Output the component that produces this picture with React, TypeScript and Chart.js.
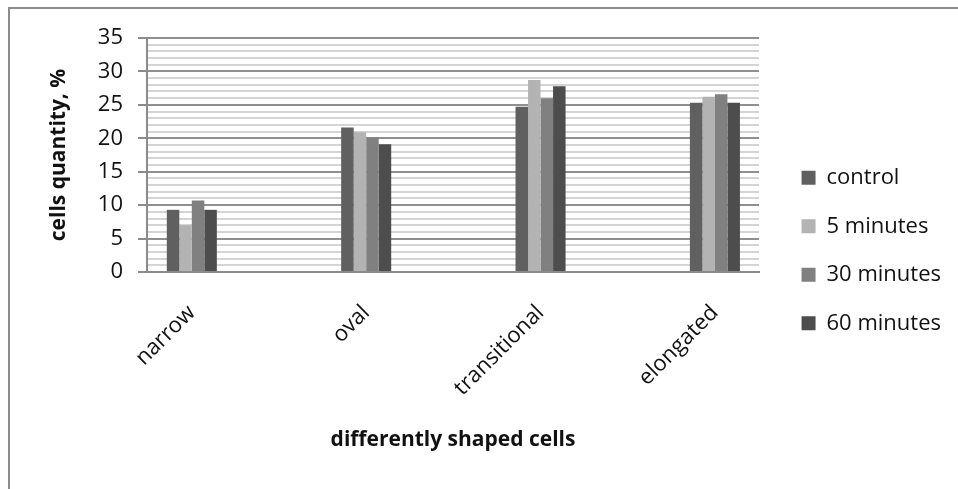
import { useEffect, useRef } from 'react';
import { Chart, registerables } from 'chart.js';

Chart.register(...registerables);

const categories = ['narrow', 'oval', 'transitional', 'elongated'];
const seriesNames = ['control', '5 minutes', '30 minutes', '60 minutes'];
const control = [9.3, 21.6, 24.7, 25.3];
const min5 = [7.0, 20.9, 28.7, 26.2];
const min30 = [10.7, 20.1, 26.0, 26.6];
const min60 = [9.3, 19.1, 27.8, 25.3];
const seriesColors = ['#606060', '#b3b3b3', '#808080', '#4d4d4d'];
const yMin = 0;
const yMax = 35;
const yMajorStep = 5;
const xTitle = 'differently shaped cells';
const yTitle = 'cells quantity, %';

const FONT = '"Open Sans", "Noto Sans", sans-serif';

export default function App() {
  const ref = useRef<HTMLCanvasElement | null>(null);

  useEffect(() => {
    let chart: Chart | null = null;
    let cancelled = false;
    const seriesValues = [control, min5, min30, min60];

    const build = () => {
      if (cancelled || !ref.current) return;
      chart = new Chart(ref.current, {
        type: 'bar',
        data: {
          datasets: seriesNames.map((name, s) => ({
            label: name,
            data: seriesValues[s].map((v, i) => ({ x: i, y: v })),
            backgroundColor: seriesColors[s],
            borderWidth: 0,
            categoryPercentage: 0.287,
            barPercentage: 1,
          })),
        },
        options: {
          responsive: false,
          animation: false,
          events: [],
          layout: { padding: { left: 0, top: 29, right: 7, bottom: 26 } },
          plugins: {
            tooltip: { enabled: false },
            legend: {
              display: true,
              position: 'right',
              maxWidth: 400,
              labels: {
                boxWidth: 14,
                boxHeight: 14,
                padding: 26.5,
                color: '#111',
                font: { family: FONT, size: 22 },
              },
            },
          },
          scales: {
            x: {
              type: 'linear',
              offset: false,
              min: -0.257,
              max: 3.253,
              afterBuildTicks: (s: any) => {
                s.ticks = categories.map((_, i) => ({ value: i }));
              },
              afterFit: (s: any) => {
                s.height = 191;
              },
              grid: { display: false, offset: false },
              border: { display: true, color: '#8a8a8a', width: 2 },
              ticks: {
                autoSkip: false,
                minRotation: 45,
                maxRotation: 45,
                padding: 20,
                color: '#111',
                font: { family: FONT, size: 22 },
                callback: (v: any) => categories[Math.round(Number(v))] ?? '',
              },
              title: {
                display: true,
                text: xTitle,
                color: '#111',
                font: { family: FONT, size: 21, weight: 'bold' },
                padding: { top: 0, bottom: 10.4 },
              },
            },
            y: {
              type: 'linear',
              min: yMin,
              max: yMax,
              afterFit: (s: any) => {
                s.width = 137;
              },
              grid: {
                display: true,
                drawTicks: true,
                tickLength: 9,
                lineWidth: 2,
                color: (c: any) => (c.tick && c.tick.value % yMajorStep === 0 ? '#8f8f8f' : '#d4d4d4'),
                tickColor: (c: any) => (c.tick && c.tick.value % yMajorStep === 0 ? '#8a8a8a' : 'rgba(0,0,0,0)'),
                tickWidth: 2,
              },
              border: { display: true, color: '#8a8a8a', width: 2 },
              ticks: {
                stepSize: 1,
                autoSkip: false,
                padding: 15,
                color: '#111',
                font: { family: FONT, size: 22 },
                callback: (v: any) => (Number(v) % yMajorStep === 0 ? String(v) : ''),
              },
              title: {
                display: true,
                text: yTitle,
                color: '#111',
                font: { family: FONT, size: 21, weight: 'bold' },
                padding: { top: 36.4, bottom: 0 },
              },
            },
            gap: {
              type: 'linear',
              position: 'right',
              display: true,
              grid: { display: false },
              border: { display: false },
              ticks: { display: false },
              afterFit: (s: any) => {
                s.width = 16;
              },
            },
          },
        } as any,
      });
    };

    const fontsReady = (document as any).fonts
      ? Promise.all([
          (document as any).fonts.load('22px "Open Sans"'),
          (document as any).fonts.load('bold 21px "Open Sans"'),
        ]).catch(() => null)
      : Promise.resolve(null);
    fontsReady.then(build);

    return () => {
      cancelled = true;
      if (chart) chart.destroy();
    };
  }, []);

  return (
    <div
      style={{
        position: 'absolute',
        left: 8,
        top: 7,
        width: 950,
        height: 482,
        borderLeft: '2px solid #8c8c8c',
        borderTop: '2px solid #8c8c8c',
        boxSizing: 'border-box',
        overflow: 'hidden',
        background: '#fff',
      }}
    >
      <canvas ref={ref} width={948} height={480} style={{ display: 'block' }} />
    </div>
  );
}
